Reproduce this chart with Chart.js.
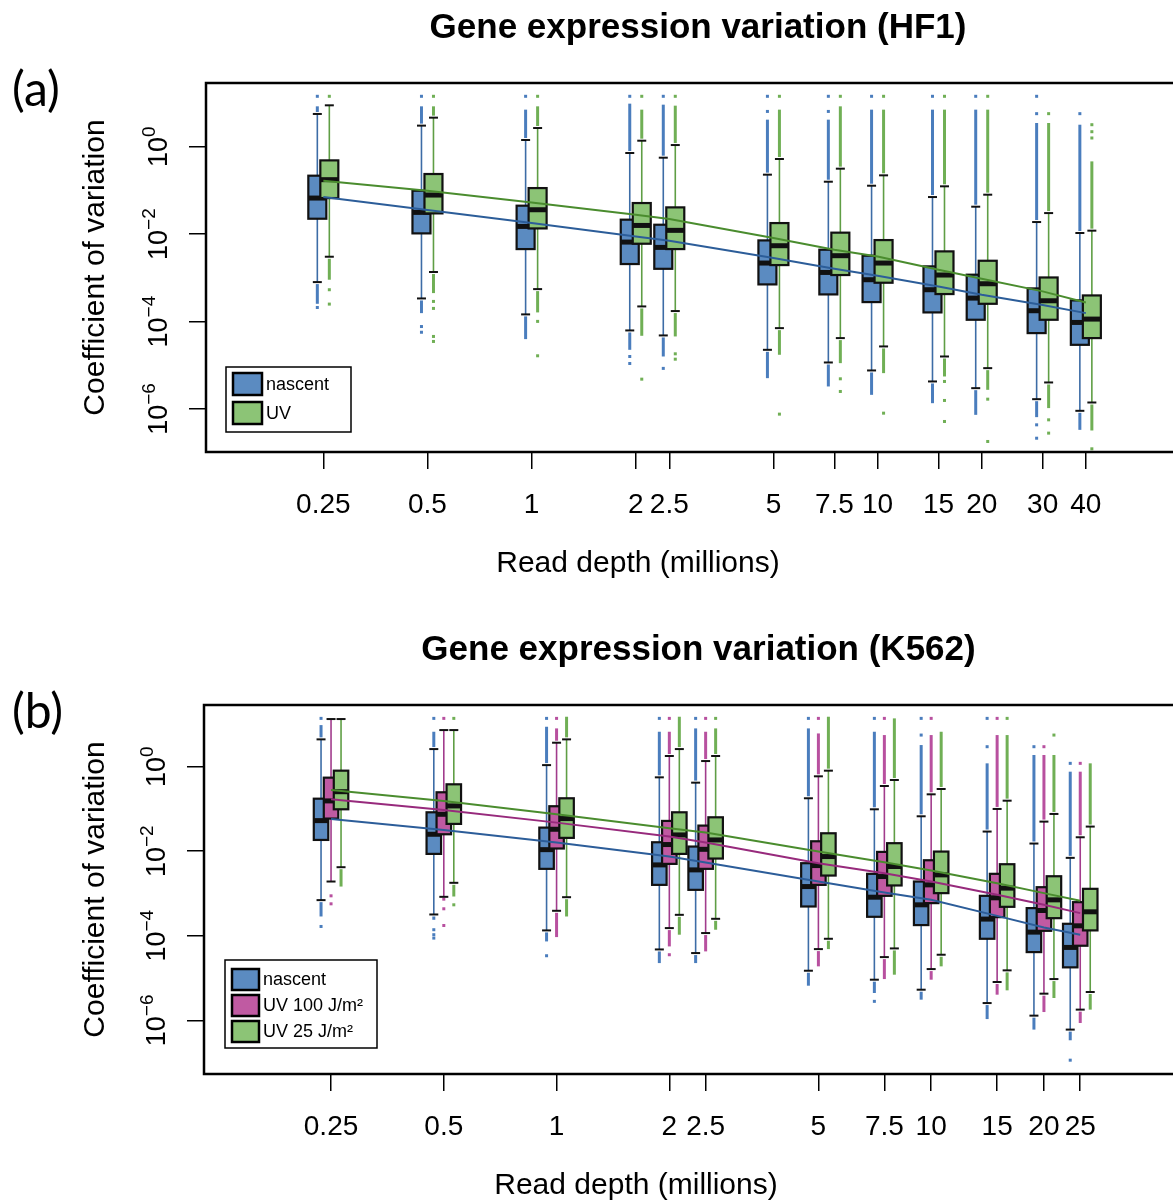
<!DOCTYPE html>
<html>
<head>
<meta charset="utf-8">
<title>Gene expression variation</title>
<script src="https://cdn.jsdelivr.net/npm/chart.js@4.4.1/dist/chart.umd.min.js"></script>
<style>
  html, body { margin: 0; padding: 0; background: #fff; overflow: hidden; }
  canvas { display: block; }
</style>
</head>
<body>
<canvas id="hf1-chart" width="1200" height="600"></canvas>
<canvas id="k562-chart" width="1200" height="601"></canvas>
<script>
// ---------- data ----------
const yTickExponents = [0, -2, -4, -6];
const xAxisTitle = "Read depth (millions)";
const yAxisTitle = "Coefficient of variation";

// (a) HF1
const hf1Depths = [0.25, 0.5, 1, 2, 2.5, 5, 7.5, 10, 15, 20, 30, 40];
const hf1TickLabels = ["0.25", "0.5", "1", "2", "2.5", "5", "7.5", "10", "15", "20", "30", "40"];

const hf1NascentQ1 = [0.0225, 0.0104, 0.00455, 0.00207, 0.00161, 7.08e-4, 4.18e-4, 2.79e-4, 1.62e-4, 1.10e-4, 5.45e-5, 2.94e-5];
const hf1NascentMedian = [0.0668, 0.0314, 0.0150, 0.00658, 0.00497, 0.00218, 0.00133, 9.06e-4, 5.35e-4, 3.44e-4, 1.77e-4, 9.55e-5];
const hf1NascentQ3 = [0.217, 0.0984, 0.0447, 0.0214, 0.0164, 0.00718, 0.00440, 0.00321, 0.00183, 0.00118, 5.73e-4, 3.05e-4];
const hf1NascentWhiskerLo = [8.0e-4, 3.38e-4, 1.46e-4, 6.27e-5, 4.82e-5, 2.26e-5, 1.16e-5, 7.62e-6, 4.27e-6, 3.0e-6, 1.68e-6, 9.1e-7];
const hf1NascentWhiskerHi = [5.6, 3.03, 1.42, 0.716, 0.56, 0.229, 0.158, 0.128, 0.0705, 0.0424, 0.0189, 0.0106];
const hf1NascentOutLo = [2.55e-4, 1.56e-4, 3.97e-5, 2.26e-5, 1.59e-5, 5.08e-6, 3.28e-6, 2.11e-6, 1.36e-6, 7.36e-7, 6.52e-7, 3.34e-7];
const hf1NascentOutHi = [8.37, 8.37, 7.03, 9.64, 9.14, 4.15, 4.15, 7.03, 7.03, 7.03, 3.48, 3.18];
const hf1NascentDots = [[14.2, 2.1e-4], [14.2, 7.7e-5, 5.7e-5], [14.2], [14.2, 1.59e-5, 1.1e-5], [14.2, 8.5e-6], [14.2, 6.4],
  [14.2, 6.4], [14.2], [14.2], [14.2], [14.2, 5.69, 4.35e-7, 2.15e-7], [5.69]];
const hf1NascentTrend = [0.0705, 0.0356, 0.0179, 0.00887, 0.00706, 0.00283, 0.00161, 0.00112, 6.37e-4, 4.1e-4, 2.38e-4, 1.56e-4];

const hf1UvQ1 = [0.0668, 0.0298, 0.0135, 0.00603, 0.00455, 0.00196, 0.00116, 7.73e-4, 4.26e-4, 2.55e-4, 1.10e-4, 4.19e-5];
const hf1UvMedian = [0.176, 0.0783, 0.0361, 0.0158, 0.0122, 0.00543, 0.00321, 0.00218, 0.00116, 7.33e-4, 2.99e-4, 1.14e-4];
const hf1UvQ3 = [0.486, 0.237, 0.113, 0.0514, 0.0409, 0.0179, 0.0108, 0.00731, 0.00403, 0.00246, 0.00102, 3.96e-4];
const hf1UvWhiskerLo = [0.00304, 0.00136, 5.53e-4, 2.22e-4, 1.74e-4, 7.08e-5, 4.19e-5, 2.7e-5, 1.59e-5, 8.61e-6, 4.05e-6, 1.41e-6];
const hf1UvWhiskerHi = [8.83, 4.61, 2.67, 1.37, 1.09, 0.522, 0.314, 0.221, 0.124, 0.0798, 0.0303, 0.012];
const hf1UvOutLo = [9.06e-4, 4.48e-4, 1.62e-4, 4.73e-5, 4.57e-5, 1.74e-5, 1.12e-5, 6.62e-6, 5.55e-6, 2.75e-6, 1.05e-6, 3.23e-7];
const hf1UvOutHi = [8.83, 8.37, 8.37, 7.03, 8.67, 7.03, 8.37, 7.03, 7.03, 7.03, 3.48, 0.461];
const hf1UvDots = [[14.2, 5.35e-4, 2.51e-4], [14.2, 2.89e-4, 2.0e-4, 4.57e-5, 3.51e-5], [14.2, 1.01e-4, 1.65e-5], [14.2, 4.82e-6],
  [14.2, 1.83e-5, 1.38e-5], [14.2, 7.64e-7], [14.2, 4.91e-6, 2.52e-6], [14.2, 8.04e-7], [14.2, 4.27e-6, 1.57e-6, 5.19e-7],
  [14.2, 1.68e-6, 1.81e-7], [5.69, 5.66e-7, 2.81e-7], [3.18, 2.2, 1.58, 1.23e-7]];
const hf1UvTrend = [0.167, 0.0984, 0.0532, 0.0278, 0.0221, 0.00813, 0.0044, 0.00309, 0.00153, 9.53e-4, 4.9e-4, 2.74e-4];

// (b) K562
const k562Depths = [0.25, 0.5, 1, 2, 2.5, 5, 7.5, 10, 15, 20, 25];
const k562TickLabels = ["0.25", "0.5", "1", "2", "2.5", "5", "7.5", "10", "15", "20", "25"];

const k562NascentQ1 = [0.0185, 0.00865, 0.00383, 0.0016, 0.00122, 4.93e-4, 2.81e-4, 1.79e-4, 8.49e-5, 4.11e-5, 1.79e-5];
const k562NascentMedian = [0.053, 0.0252, 0.0109, 0.00475, 0.00362, 0.00146, 8.18e-4, 5.4e-4, 2.48e-4, 1.22e-4, 5.3e-5];
const k562NascentQ3 = [0.175, 0.0834, 0.0362, 0.0163, 0.0129, 0.00521, 0.00292, 0.00192, 8.81e-4, 4.51e-4, 1.92e-4];
const k562NascentWhiskerLo = [6.97e-4, 3.19e-4, 1.34e-4, 4.75e-5, 3.9e-5, 1.49e-5, 9.14e-6, 5.3e-6, 2.56e-6, 1.29e-6, 6.03e-7];
const k562NascentWhiskerHi = [4.43, 2.61, 1.09, 0.56, 0.419, 0.179, 0.0982, 0.0671, 0.0292, 0.0152, 0.00697];
const k562NascentOutLo = [2.86e-4, 2.39e-4, 7.35e-5, 2.26e-5, 2.26e-5, 6.59e-6, 4.43e-6, 3.08e-6, 1.07e-6, 6.03e-7, 3.37e-7];
const k562NascentOutHi = [9.64, 6.71, 8.81, 6.71, 8.05, 8.05, 6.71, 3.25, 1.2, 1.89, 0.762];
const k562NascentDots = [[13.9, 1.66e-4], [13.9, 1.39e-4, 1.06e-4, 8.81e-5], [13.9, 3.37e-5], [13.9], [13.9], [13.9],
  [13.9, 2.81e-6], [13.9, 5.6], [13.9, 2.97], [2.97], [1.2, 1.14e-7]];
const k562NascentTrend = [0.0581, 0.0319, 0.016, 0.00748, 0.0054, 0.00192, 0.00106, 7.08e-4, 2.96e-4, 1.57e-4, 1.06e-4];

const k562Uv100Q1 = [0.0592, 0.0252, 0.0116, 0.00502, 0.00383, 0.0016, 8.81e-4, 5.92e-4, 2.76e-4, 1.31e-4, 5.81e-5];
const k562Uv100Median = [0.155, 0.0748, 0.0331, 0.0144, 0.0111, 0.00458, 0.00252, 0.0016, 7.91e-4, 3.96e-4, 1.72e-4];
const k562Uv100Q3 = [0.55, 0.248, 0.116, 0.0521, 0.0404, 0.0172, 0.00964, 0.00612, 0.00292, 0.00141, 6.24e-4];
const k562Uv100WhiskerLo = [0.00192, 8.34e-4, 3.9e-4, 1.52e-4, 1.16e-4, 4.84e-5, 3.13e-5, 1.63e-5, 8.05e-6, 4.27e-6, 1.79e-6];
const k562Uv100WhiskerHi = [13.4, 7.35, 3.69, 1.79, 1.36, 0.592, 0.349, 0.222, 0.1, 0.0502, 0.0214];
const k562Uv100OutLo = [0.00192, 8.34e-4, 9.31e-5, 5.6e-5, 4.27e-5, 1.89e-5, 9.46e-6, 9.14e-6, 4.04e-6, 1.57e-6, 8.65e-7];
const k562Uv100OutHi = [13.4, 7.35, 8.05, 6.71, 6.71, 6.12, 5.6, 5.6, 5.6, 1.89, 0.762];
const k562Uv100Dots = [[8.81e-4, 5.7e-4], [13.9, 7.35e-4, 4.35e-4, 1.75e-4], [13.9], [13.9, 3.56e-5], [13.9], [13.9],
  [13.9], [13.9], [13.9], [2.97], [1.2]];
const k562Uv100Trend = [0.169, 0.0946, 0.0475, 0.0222, 0.016, 0.00521, 0.00302, 0.00192, 9.31e-4, 5.4e-4, 3.43e-4];

const k562Uv25Q1 = [0.0982, 0.0443, 0.0207, 0.00865, 0.00671, 0.00266, 0.00155, 0.00102, 4.84e-4, 2.61e-4, 1.34e-4];
const k562Uv25Median = [0.256, 0.118, 0.0592, 0.0243, 0.0185, 0.00748, 0.00435, 0.00276, 0.00134, 7.08e-4, 3.69e-4];
const k562Uv25Q3 = [0.805, 0.383, 0.179, 0.0834, 0.0635, 0.0266, 0.0155, 0.00982, 0.00493, 0.00256, 0.00129];
const k562Uv25WhiskerLo = [0.00419, 0.00179, 8.18e-4, 3.13e-4, 2.52e-4, 8.49e-5, 5.02e-5, 3.56e-5, 1.52e-5, 9.46e-6, 4.67e-6];
const k562Uv25WhiskerHi = [13.4, 7.35, 4.43, 2.61, 1.79, 0.805, 0.484, 0.297, 0.157, 0.0762, 0.0383];
const k562Uv25OutLo = [0.00146, 8.49e-4, 2.86e-4, 1.06e-4, 1.39e-4, 4.84e-5, 1.2e-5, 1.89e-5, 5.12e-6, 3.37e-6, 1.79e-6];
const k562Uv25OutHi = [13.4, 7.35, 15.2, 15.2, 8.05, 15.2, 13.9, 6.71, 5.6, 1.89, 1.2];
const k562Uv25Dots = [[], [13.9, 5.4e-4], [], [], [13.9], [], [], [], [13.9], [5.6], []];
const k562Uv25Trend = [0.281, 0.155, 0.0748, 0.0349, 0.0276, 0.00982, 0.0055, 0.00349, 0.00175, 0.00102, 6.71e-4];

// ---------- styling ----------
const FONT = "'Liberation Sans', Arial, Helvetica, sans-serif";
const BLUE = { fill: "#5b8bc1", line: "#2c5d99", whisker: "#3d6ca6", outlier: "#4a7dbd" };
const GREEN = { fill: "#8cc476", line: "#4a8c2e", whisker: "#5f9e45", outlier: "#70af55" };
const MAGENTA = { fill: "#c05aa2", line: "#972a7c", whisker: "#a13c8c", outlier: "#b8509f" };

function series(name, palette, offset, q1, median, q3, whiskerLo, whiskerHi, outLo, outHi, dots, trend) {
  return { name, ...palette, offset, q1, median, q3, whiskerLo, whiskerHi, outLo, outHi, dots, trend };
}

const hf1Series = [
  series("nascent", BLUE, -6, hf1NascentQ1, hf1NascentMedian, hf1NascentQ3, hf1NascentWhiskerLo, hf1NascentWhiskerHi,
    hf1NascentOutLo, hf1NascentOutHi, hf1NascentDots, hf1NascentTrend),
  series("UV", GREEN, 6, hf1UvQ1, hf1UvMedian, hf1UvQ3, hf1UvWhiskerLo, hf1UvWhiskerHi,
    hf1UvOutLo, hf1UvOutHi, hf1UvDots, hf1UvTrend)
];

const k562Series = [
  series("nascent", BLUE, -10, k562NascentQ1, k562NascentMedian, k562NascentQ3, k562NascentWhiskerLo, k562NascentWhiskerHi,
    k562NascentOutLo, k562NascentOutHi, k562NascentDots, k562NascentTrend),
  series("UV 100 J/m\u00b2", MAGENTA, 0, k562Uv100Q1, k562Uv100Median, k562Uv100Q3, k562Uv100WhiskerLo, k562Uv100WhiskerHi,
    k562Uv100OutLo, k562Uv100OutHi, k562Uv100Dots, k562Uv100Trend),
  series("UV 25 J/m\u00b2", GREEN, 10, k562Uv25Q1, k562Uv25Median, k562Uv25Q3, k562Uv25WhiskerLo, k562Uv25WhiskerHi,
    k562Uv25OutLo, k562Uv25OutHi, k562Uv25Dots, k562Uv25Trend)
];

// Draw boxes, whiskers, staples and outliers under the trend lines
const boxplotPlugin = {
  id: "boxplots",
  beforeDatasetsDraw(chart, args, opts) {
    const { ctx, chartArea: area, scales: { x, y } } = chart;
    const py = v => y.getPixelForValue(v);
    const seg = (x1, y1, x2, y2) => { ctx.beginPath(); ctx.moveTo(x1, y1); ctx.lineTo(x2, y2); ctx.stroke(); };
    const half = opts.boxWidth / 2;
    const staple = 4.5;

    ctx.save();
    ctx.beginPath();
    ctx.rect(area.left, area.top, area.right - area.left, area.bottom - area.top);
    ctx.clip();
    ctx.lineCap = "butt";

    opts.depths.forEach((depth, i) => {
      const cx = x.getPixelForValue(depth);
      opts.series.forEach(s => {
        const bx = cx + s.offset;

        // whiskers
        ctx.strokeStyle = s.whisker;
        ctx.lineWidth = 1.6;
        seg(bx, py(s.q3[i]), bx, py(s.whiskerHi[i]));
        seg(bx, py(s.q1[i]), bx, py(s.whiskerLo[i]));

        // dense runs of outliers
        ctx.strokeStyle = s.outlier;
        ctx.lineWidth = 3;
        if (s.outHi[i] > s.whiskerHi[i] * 1.01) seg(bx, py(s.whiskerHi[i]) - 2, bx, py(s.outHi[i]));
        if (s.outLo[i] < s.whiskerLo[i] * 0.99) seg(bx, py(s.whiskerLo[i]) + 2, bx, py(s.outLo[i]));

        // isolated outliers
        ctx.fillStyle = s.outlier;
        s.dots[i].forEach(v => ctx.fillRect(bx - 1.5, py(v) - 1.5, 3, 3));

        // staples
        ctx.strokeStyle = "#111";
        ctx.lineWidth = 2;
        seg(bx - staple, py(s.whiskerHi[i]), bx + staple, py(s.whiskerHi[i]));
        seg(bx - staple, py(s.whiskerLo[i]), bx + staple, py(s.whiskerLo[i]));

        // box
        const top = py(s.q3[i]);
        const bottom = py(s.q1[i]);
        ctx.fillStyle = s.fill;
        ctx.fillRect(bx - half, top, opts.boxWidth, bottom - top);
        ctx.lineWidth = 2.2;
        ctx.strokeRect(bx - half, top, opts.boxWidth, bottom - top);

        // median
        ctx.lineWidth = 5;
        seg(bx - half, py(s.median[i]), bx + half, py(s.median[i]));
      });
    });
    ctx.restore();
  }
};

// Frame, titles, rotated y tick labels and legend
const panelTextPlugin = {
  id: "panelText",
  afterDraw(chart, args, opts) {
    const { ctx, chartArea: area, scales: { y } } = chart;
    ctx.save();

    ctx.strokeStyle = "#000";
    ctx.lineWidth = 2.5;
    ctx.strokeRect(area.left, area.top, area.right - area.left, area.bottom - area.top);

    ctx.fillStyle = "#000";
    ctx.textAlign = "center";
    ctx.textBaseline = "middle";
    ctx.font = `bold 35px ${FONT}`;
    ctx.fillText(opts.title, (area.left + area.right) / 2, area.top - 55);

    ctx.textAlign = "left";
    ctx.font = "48px Lato, 'Open Sans', sans-serif";
    ctx.fillText(opts.panel, 12, area.top + 8);

    ctx.textAlign = "center";
    ctx.font = `30px ${FONT}`;
    ctx.fillText(xAxisTitle, area.left + 432, area.bottom + 112);

    ctx.save();
    ctx.translate(96, (area.top + area.bottom) / 2);
    ctx.rotate(-Math.PI / 2);
    ctx.fillText(yAxisTitle, 0, 0);
    ctx.restore();

    // y tick labels: 10 with a superscript exponent, parallel to the axis
    yTickExponents.forEach(e => {
      const ty = y.getPixelForValue(Math.pow(10, e));
      const sup = e === 0 ? "0" : "\u2212" + Math.abs(e);
      ctx.save();
      ctx.translate(area.left - 39, ty);
      ctx.rotate(-Math.PI / 2);
      ctx.textAlign = "left";
      ctx.textBaseline = "alphabetic";
      ctx.font = `27px ${FONT}`;
      const wBase = ctx.measureText("10").width;
      ctx.font = `19px ${FONT}`;
      const wSup = ctx.measureText(sup).width;
      const start = -(wBase + wSup) / 2;
      ctx.font = `27px ${FONT}`;
      ctx.fillText("10", start, 0);
      ctx.font = `19px ${FONT}`;
      ctx.fillText(sup, start + wBase, -12);
      ctx.restore();
    });

    // legend
    const lg = opts.legend;
    ctx.fillStyle = "#fff";
    ctx.fillRect(lg.x, lg.y, lg.w, lg.h);
    ctx.strokeStyle = "#000";
    ctx.lineWidth = 1.5;
    ctx.strokeRect(lg.x, lg.y, lg.w, lg.h);
    opts.series.forEach((s, i) => {
      const cy = lg.firstRow + i * lg.rowGap;
      ctx.fillStyle = s.fill;
      ctx.fillRect(lg.swatchX, cy - lg.sh / 2, lg.sw, lg.sh);
      ctx.lineWidth = 2.5;
      ctx.strokeStyle = "#000";
      ctx.strokeRect(lg.swatchX, cy - lg.sh / 2, lg.sw, lg.sh);
      ctx.fillStyle = "#000";
      ctx.textAlign = "left";
      ctx.textBaseline = "middle";
      ctx.font = `18px ${FONT}`;
      ctx.fillText(s.name, lg.swatchX + lg.sw + 4, cy + 1);
    });

    ctx.restore();
  }
};

function makePanel(canvasId, cfg) {
  const axisGrid = { drawOnChartArea: false, drawTicks: true, tickLength: 17, color: "#000", lineWidth: 1.5 };
  return new Chart(document.getElementById(canvasId), {
    type: "line",
    data: {
      datasets: cfg.series.map(s => ({
        label: s.name,
        data: cfg.depths.map((d, i) => ({ x: d, y: s.trend[i] })),
        borderColor: s.line,
        borderWidth: 2,
        pointRadius: 0,
        fill: false,
        tension: 0
      }))
    },
    options: {
      responsive: false,
      animation: false,
      devicePixelRatio: 1,
      layout: { padding: { left: 0, right: cfg.padRight, top: cfg.padTop, bottom: 0 } },
      plugins: {
        legend: { display: false },
        tooltip: { enabled: false },
        boxplots: { depths: cfg.depths, series: cfg.series, boxWidth: cfg.boxWidth },
        panelText: { title: cfg.title, panel: cfg.panel, series: cfg.series, legend: cfg.legend }
      },
      scales: {
        x: {
          type: "logarithmic",
          min: cfg.xMin,
          max: cfg.xMax,
          bounds: "data",
          afterBuildTicks: scale => { scale.ticks = cfg.depths.map(v => ({ value: v })); },
          afterFit: scale => { scale.height = cfg.xHeight; },
          ticks: {
            autoSkip: false, maxRotation: 0, minRotation: 0, padding: 19, color: "#000",
            font: { family: FONT, size: 28 },
            callback: (value, index) => cfg.tickLabels[index]
          },
          grid: axisGrid,
          border: { display: false }
        },
        y: {
          type: "logarithmic",
          min: cfg.yMin,
          max: cfg.yMax,
          bounds: "data",
          afterBuildTicks: scale => { scale.ticks = yTickExponents.map(e => ({ value: Math.pow(10, e) })); },
          afterFit: scale => { scale.width = cfg.yWidth; },
          ticks: { display: false },
          grid: axisGrid,
          border: { display: false }
        }
      }
    },
    plugins: [boxplotPlugin, panelTextPlugin]
  });
}

makePanel("hf1-chart", {
  title: "Gene expression variation (HF1)",
  panel: "(a)",
  depths: hf1Depths,
  tickLabels: hf1TickLabels,
  series: hf1Series,
  boxWidth: 18,
  xMin: 0.1145, xMax: 80,
  yMin: 1.04e-7, yMax: 28.6,
  padTop: 83, padRight: 10, yWidth: 206, xHeight: 148,
  legend: { x: 226, y: 367, w: 125, h: 65, swatchX: 233, sw: 29, sh: 22, firstRow: 384, rowGap: 29 }
});

makePanel("k562-chart", {
  title: "Gene expression variation (K562)",
  panel: "(b)",
  depths: k562Depths,
  tickLabels: k562TickLabels,
  series: k562Series,
  boxWidth: 14.5,
  xMin: 0.1145, xMax: 50,
  yMin: 5.37e-8, yMax: 28.8,
  padTop: 105, padRight: 7, yWidth: 204, xHeight: 127,
  legend: { x: 225, y: 360, w: 152, h: 88, swatchX: 232, sw: 27, sh: 21, firstRow: 379.5, rowGap: 26 }
});
</script>
</body>
</html>
